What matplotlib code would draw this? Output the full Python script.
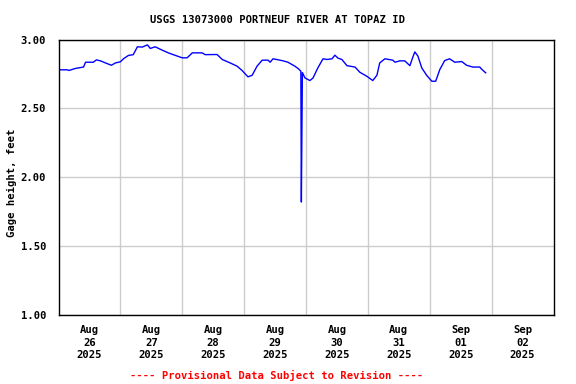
import numpy as np
import matplotlib
matplotlib.use("Agg")
import matplotlib.pyplot as plt

# hours since 2025-08-26 00:00 and gage height (feet)
hours = [0, 3.5, 4.0, 6.6, 9.7, 10.5, 13.5, 14.7, 16.3, 18.2, 20.5, 22.1, 24.0,
         25.2, 27.1, 29.0, 30.6, 32.5, 34.5, 35.6, 37.5, 40.3, 42.6, 44.5, 48.0,
         49.9, 51.9, 55.7, 56.9, 61.5, 63.5, 66.6, 69.3, 71.2, 73.5, 75.1, 77.0,
         79.0, 81.3, 82.1, 83.2, 85.9, 87.1, 89.0, 91.7, 92.9, 94.0, 94.2, 94.4,
         94.6, 95.6, 97.5, 98.7, 100.6, 102.6, 104.1, 106.1, 107.2, 108.4, 109.9,
         111.9, 115.0, 116.9, 119.6, 121.9, 123.5, 124.6, 126.6, 129.7, 130.5,
         132.4, 134.3, 136.3, 137.4, 138.2, 139.4, 140.9, 142.8, 144.8, 146.3,
         147.9, 149.8, 151.7, 153.7, 156.4, 158.3, 160.7, 163.4, 164.1, 165.7]
gage = [2.78, 2.78, 2.775, 2.79, 2.80, 2.835, 2.835, 2.852, 2.845, 2.83, 2.813,
        2.83, 2.838, 2.86, 2.884, 2.89, 2.947, 2.945, 2.961, 2.935, 2.947, 2.922,
        2.903, 2.89, 2.867, 2.867, 2.903, 2.903, 2.89, 2.891, 2.855, 2.83, 2.806,
        2.775, 2.729, 2.74, 2.806, 2.85, 2.85, 2.835, 2.86, 2.85, 2.845, 2.835,
        2.806, 2.79, 2.77, 1.82, 2.30, 2.76, 2.721, 2.702, 2.72, 2.794, 2.86,
        2.855, 2.86, 2.886, 2.865, 2.855, 2.81, 2.80, 2.762, 2.733, 2.702, 2.74,
        2.83, 2.86, 2.85, 2.835, 2.845, 2.845, 2.81, 2.87, 2.91, 2.88, 2.794,
        2.74, 2.697, 2.697, 2.782, 2.847, 2.86, 2.835, 2.84, 2.813, 2.80, 2.80,
        2.785, 2.758]

x_labels = ["Aug\n26\n2025", "Aug\n27\n2025", "Aug\n28\n2025", "Aug\n29\n2025",
            "Aug\n30\n2025", "Aug\n31\n2025", "Sep\n01\n2025", "Sep\n02\n2025"]
y_ticks = [1.00, 1.50, 2.00, 2.50, 3.00]

start = np.datetime64("2025-08-26T00:00")
times = start + (np.array(hours) * 60).astype("timedelta64[m]")

FONT = "DejaVu Sans Mono"
FS = 7.6

fig = plt.figure(figsize=(5.76, 3.84), dpi=100)
ax = fig.add_axes([58.5 / 576, 1 - 315 / 384, (553.5 - 58.5) / 576, (315 - 39.5) / 384])

ax.plot(times, gage, color="#0000ff", lw=1.0)

ax.set_xlim(start, start + np.timedelta64(8, "D"))
ax.set_ylim(1.0, 3.0)

grid_days = [start + np.timedelta64(d, "D") for d in range(1, 8)]
ax.set_xticks(grid_days, minor=True)
label_pos = [start + np.timedelta64(d * 24 + 12, "h") for d in range(8)]
ax.set_xticks(label_pos)
ax.set_xticklabels(x_labels, fontfamily=FONT, fontweight="bold", fontsize=FS,
                   linespacing=1.3)
ax.set_yticks(y_ticks)
ax.set_yticklabels([f"{v:.2f}" for v in y_ticks], fontfamily=FONT,
                   fontweight="bold", fontsize=FS)
ax.tick_params(axis="both", which="both", length=0)
ax.tick_params(axis="x", pad=7.5)
ax.tick_params(axis="y", pad=9)
ax.grid(True, which="minor", axis="x", color="#cccccc", lw=1.0)
ax.grid(True, which="major", axis="y", color="#cccccc", lw=1.0)
ax.set_axisbelow(True)
for s in ax.spines.values():
    s.set_color("black")
    s.set_linewidth(1.0)

fig.text(277 / 576, 1 - 20 / 384, "USGS 13073000 PORTNEUF RIVER AT TOPAZ ID",
         ha="center", va="center", fontfamily=FONT, fontweight="bold", fontsize=FS)
fig.text(12 / 576, 1 - 183 / 384, "Gage height, feet", rotation=90,
         ha="center", va="center", fontfamily=FONT, fontweight="bold", fontsize=FS)
fig.text(277 / 576, 1 - 375 / 384, "---- Provisional Data Subject to Revision ----",
         ha="center", va="center", fontfamily=FONT, fontweight="bold",
         fontsize=FS, color="red")

fig.savefig("out.png", dpi=100)
